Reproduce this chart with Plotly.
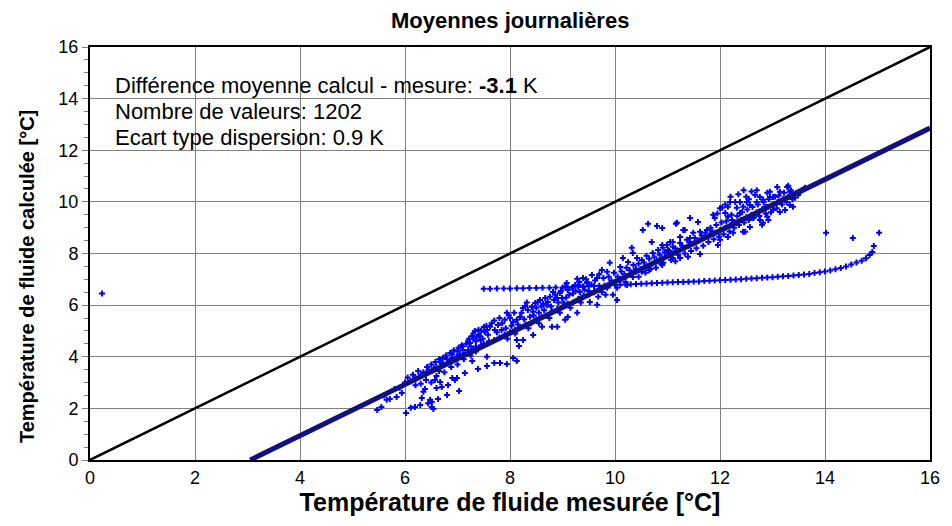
import plotly.graph_objects as go

cloud_x = [
    5.47, 5.55, 5.65, 5.71, 5.84, 5.94, 6.02, 6.11, 6.19, 6.29, 6.32, 6.35, 6.38, 6.44, 6.48, 6.51, 6.54, 6.51,
    6.57, 6.6, 6.67, 6.7, 6.63, 6.8, 6.82, 6.9, 6.95, 6.99, 7.03, 7.14, 7.28, 7.39, 7.56, 7.56,
    5.6, 5.8, 5.9, 6.0, 6.1, 6.2, 6.3, 6.4, 6.45, 6.55, 6.6, 6.7, 6.75, 6.85, 6.9, 7.0, 7.05, 7.15, 7.2, 7.3,
    7.35, 7.45, 7.5, 7.6,
    6.67, 6.99, 7.1, 7.24, 7.37, 7.52, 7.0, 7.1, 7.2, 7.3, 7.4, 7.45, 6.8, 6.9,
    7.7, 7.81, 7.94, 8.06, 8.13,
    7.56, 7.62, 7.71, 7.77, 7.84, 7.9, 7.94, 8.0, 8.06, 8.13, 8.19, 8.25, 8.29, 8.34, 8.42, 8.44, 8.48, 8.53,
    8.57, 8.63, 8.67, 8.72, 8.76, 8.82, 8.86, 8.9, 8.95, 8.99, 9.05, 9.08, 9.1, 9.18, 9.24, 9.28, 9.33, 9.39, 9.47,
    8.13, 8.17, 8.25, 8.44, 8.61, 8.8, 8.9, 9.05, 9.1, 9.28,
    7.7, 7.8, 7.9, 8.0, 8.1, 8.2, 8.3, 8.4, 8.5, 8.6, 8.7, 8.8, 8.9, 9.0, 9.1, 9.2, 9.3, 9.4, 9.5,
    7.3, 7.35, 7.42, 7.48, 7.25,
    10.63, 10.8, 11.16, 10.53, 11.33, 10.32, 10.34, 10.7, 10.9, 11.05, 9.9, 9.75, 9.85, 10.1, 10.15, 10.25,
    10.42, 10.51, 10.6, 10.72, 10.82, 10.91, 11.01, 11.1, 11.24, 11.37, 9.39, 9.56, 9.66, 9.3, 9.47, 9.75,
    9.68, 9.52, 9.66, 9.85, 10.04, 10.23, 10.1, 10.34, 10.51, 9.96, 10.04,
    9.6, 9.7, 9.8, 9.9, 10.0, 10.1, 10.2, 10.3, 10.4, 10.5, 10.6, 10.7, 10.8, 10.9, 11.0, 11.1, 11.2, 11.3, 11.4,
    13.09, 12.9, 12.76, 12.67, 12.51, 12.38, 12.29, 12.19, 12.15, 12.32, 12.44, 12.57, 12.7, 12.82, 12.95,
    12.04, 12.1, 11.87, 11.9, 12.15, 12.23, 12.38, 12.63, 12.76, 12.9, 13.01, 11.58, 11.43, 11.18, 11.3,
    11.49, 11.62, 11.75, 11.85, 11.1, 10.99, 11.24, 11.43, 12.0, 12.25, 12.48, 12.57, 12.8, 10.9, 11.1,
    11.24, 11.39, 11.62, 10.92, 12.15, 11.96,
    13.28, 13.33, 12.95, 13.14, 13.01, 13.43, 13.49, 12.86, 13.33, 13.39, 12.82, 12.92, 13.14, 13.24, 12.44,
    13.3, 12.6, 12.5, 12.7,
    11.5, 11.6, 11.7, 11.8, 11.9, 12.0, 12.1, 12.2, 12.3, 12.4, 12.5, 12.6, 12.7, 12.8, 12.9, 13.0, 13.1,
    13.2, 13.3, 13.4, 13.5, 13.6,
    0.23, 14.02, 14.53, 15.03,
]
cloud_y = [
    1.94, 2.05, 2.33, 2.36, 2.44, 2.6, 1.82, 2.02, 2.05, 2.13, 2.4, 2.64, 2.75, 2.2, 2.33, 2.05, 1.98, 2.25,
    3.1, 2.79, 3.02, 2.83, 2.36, 2.52, 2.91, 3.18, 3.1, 3.18, 2.67, 3.37, 3.84, 3.53, 3.64, 4.0,
    2.5, 2.75, 2.8, 3.0, 3.05, 3.2, 3.3, 3.35, 3.5, 3.55, 3.6, 3.75, 3.7, 3.85, 3.95, 4.0, 4.1, 4.15, 4.25, 4.3,
    4.4, 4.45, 4.5, 4.6,
    3.8, 4.0, 4.26, 4.53, 4.77, 4.96, 4.2, 4.4, 4.6, 4.7, 4.85, 5.0, 3.9, 4.1,
    3.76, 3.76, 3.72, 3.95, 3.84,
    5.04, 5.16, 5.04, 5.23, 5.04, 5.43, 5.7, 5.5, 5.35, 5.43, 5.54, 5.89, 5.97, 5.81, 5.93, 5.74, 6.08, 6.12,
    6.2, 6.05, 6.28, 6.12, 6.32, 6.51, 6.4, 6.28, 6.47, 6.28, 6.71, 6.86, 6.59, 6.67, 6.78, 7.02, 6.51, 6.71, 6.86,
    4.65, 4.42, 4.65, 4.84, 5.16, 5.16, 5.16, 5.43, 5.54, 5.7,
    4.65, 4.75, 4.85, 4.95, 5.05, 5.15, 5.25, 5.3, 5.45, 5.55, 5.6, 5.75, 5.85, 5.95, 6.05, 6.1, 6.25, 6.35, 6.4,
    4.9, 4.6, 4.8, 4.7, 4.4,
    9.15, 9.07, 9.15, 8.91, 8.91, 8.22, 8.02, 8.45, 8.33, 8.45, 7.64, 7.36, 7.29, 7.48, 7.83, 7.67,
    7.83, 7.75, 7.91, 8.02, 8.14, 8.22, 8.14, 8.26, 8.41, 8.53, 7.05, 7.17, 7.05, 6.78, 6.9, 6.51,
    6.32, 6.12, 6.01, 6.67, 6.67, 6.78, 6.98, 7.09, 7.29, 6.4, 6.2,
    6.5, 6.6, 6.7, 6.85, 6.9, 7.0, 7.1, 7.2, 7.3, 7.4, 7.5, 7.6, 7.7, 7.8, 7.9, 8.0, 8.1, 8.2, 8.3,
    10.58, 10.35, 10.19, 10.27, 10.0, 10.0, 10.0, 10.0, 9.81, 9.77, 9.81, 9.88, 10.0, 10.08, 10.19,
    9.77, 9.57, 9.5, 9.38, 9.42, 9.3, 9.57, 9.38, 9.3, 9.42, 9.69, 9.22, 9.38, 9.19, 8.91,
    8.8, 8.84, 8.91, 8.84, 8.45, 8.33, 8.64, 8.6, 8.53, 8.8, 8.84, 9.03, 9.11, 8.99, 7.83,
    7.83, 7.87, 7.98, 7.64, 8.64, 8.33,
    10.58, 10.39, 10.39, 10.39, 10.19, 10.16, 10.27, 9.81, 9.88, 9.81, 9.19, 9.3, 9.61, 9.69, 8.84,
    10.62, 10.4, 10.2, 10.45,
    8.4, 8.5, 8.6, 8.7, 8.8, 8.9, 9.0, 9.1, 9.2, 9.3, 9.4, 9.5, 9.6, 9.7, 9.8, 9.9, 10.0,
    10.1, 10.2, 10.3, 10.4, 10.5,
    6.45, 8.8, 8.6, 8.8,
]

# denser part of the band around the fit line, as (measured, calculated)
band_points = [
    (6.05, 3.2), (6.15, 3.3), (6.25, 3.45), (6.35, 3.4), (6.42, 3.6), (6.5, 3.7), (6.58, 3.8), (6.65, 3.9),
    (6.72, 3.95), (6.78, 4.05), (6.86, 4.15), (6.93, 4.25), (7.02, 4.35), (7.08, 4.45), (7.17, 4.5), (7.22, 4.7),
    (7.28, 4.8), (7.33, 5.0), (7.4, 5.05), (7.44, 4.65), (7.5, 5.15), (7.55, 5.2), (7.58, 4.85), (6.2, 2.9),
    (6.3, 2.95), (6.5, 3.0), (6.6, 3.25), (6.75, 3.4), (6.88, 3.6), (7.0, 3.7), (7.12, 3.9), (7.25, 4.05),
    (7.35, 4.2), (6.4, 3.1), (6.65, 3.45),
    (7.65, 5.3), (7.7, 5.4), (7.75, 4.95), (7.85, 5.3), (7.92, 5.1), (7.98, 5.6), (8.03, 5.2), (8.08, 5.7),
    (8.15, 5.25), (8.22, 5.7), (8.27, 5.45), (8.32, 6.1), (8.38, 5.55), (8.45, 5.6), (8.5, 5.9), (8.55, 5.7),
    (8.6, 5.95), (8.65, 5.8), (8.7, 6.0), (8.78, 5.95), (8.84, 6.2), (8.92, 6.1), (8.97, 6.55), (9.02, 6.1),
    (9.07, 6.3), (9.13, 6.4), (9.2, 6.45), (9.25, 6.55), (9.32, 6.9), (9.36, 6.3), (9.42, 6.6), (9.45, 7.0),
    (9.5, 6.55), (7.8, 5.5), (7.95, 4.7), (8.1, 4.9), (8.35, 5.1), (8.55, 5.3), (8.75, 5.5), (8.95, 5.7),
    (9.15, 5.9), (9.35, 6.1),
    (9.55, 6.8), (9.62, 6.95), (9.7, 7.2), (9.78, 7.05), (9.82, 6.4), (9.88, 7.1), (9.93, 6.95), (9.98, 7.25),
    (10.05, 7.1), (10.12, 7.3), (10.18, 7.2), (10.22, 7.45), (10.28, 7.35), (10.35, 7.55), (10.4, 7.4),
    (10.45, 7.6), (10.55, 7.65), (10.58, 7.25), (10.65, 7.8), (10.68, 7.4), (10.75, 7.85), (10.78, 7.45),
    (10.85, 7.95), (10.88, 7.6), (10.95, 8.05), (11.03, 8.1), (11.07, 7.75), (11.15, 8.2), (11.2, 7.95),
    (11.28, 8.3), (11.33, 8.0), (11.42, 8.45), (11.45, 8.1), (10.2, 6.9), (10.45, 7.1), (10.65, 7.35),
    (10.9, 7.55), (11.15, 7.7),
    (11.52, 8.6), (11.55, 8.2), (11.65, 8.7), (11.68, 8.3), (11.72, 8.8), (11.78, 8.45), (11.82, 9.0),
    (11.88, 8.55), (11.93, 9.1), (11.98, 8.65), (12.03, 9.2), (12.07, 8.75), (12.12, 9.25), (12.18, 8.85),
    (12.22, 9.5), (12.27, 9.0), (12.33, 9.45), (12.36, 9.1), (12.42, 9.6), (12.46, 9.2), (12.52, 9.7),
    (12.55, 9.3), (12.62, 9.8), (12.65, 9.4), (12.72, 9.9), (12.75, 9.45), (12.83, 10.0), (12.87, 9.55),
    (12.93, 10.1), (12.97, 9.6), (13.05, 10.2), (13.08, 9.75), (13.12, 10.25), (13.18, 9.9), (13.22, 10.35),
    (13.27, 10.0), (13.35, 10.45), (13.38, 10.1), (13.45, 10.35), (13.55, 10.45), (13.62, 10.55),
    (12.2, 10.2), (12.35, 10.3), (12.45, 10.45), (12.55, 10.1), (12.1, 9.9), (12.0, 9.75), (11.95, 9.55),
]

# the slowly rising branch of points to the right
branch_x = [
    7.5, 7.62, 7.75, 7.88, 8.0, 8.13, 8.25, 8.37, 8.5, 8.62, 8.75, 8.87, 9.0, 9.1, 9.2, 9.3, 9.4, 9.5, 9.6, 9.7,
    9.8, 9.9, 10.0, 10.1, 10.2, 10.3, 10.4, 10.5, 10.6, 10.7, 10.8, 10.9, 11.0, 11.1, 11.2, 11.3, 11.4, 11.5,
    11.6, 11.7, 11.8, 11.9, 12.0, 12.1, 12.2, 12.3, 12.4, 12.5, 12.6, 12.7, 12.8, 12.9, 13.0, 13.1, 13.2, 13.3,
    13.4, 13.5, 13.6, 13.7, 13.8, 13.9, 14.0, 14.1, 14.2, 14.3, 14.4, 14.5, 14.6, 14.7, 14.78, 14.85, 14.9, 14.93,
]
branch_y = [
    6.63, 6.63, 6.64, 6.64, 6.64, 6.65, 6.65, 6.66, 6.66, 6.67, 6.67, 6.68, 6.68, 6.69, 6.7, 6.71, 6.72, 6.73,
    6.74, 6.75, 6.76, 6.77, 6.78, 6.79, 6.8, 6.81, 6.82, 6.83, 6.84, 6.85, 6.86, 6.87, 6.88, 6.89, 6.9, 6.9,
    6.91, 6.92, 6.92, 6.93, 6.94, 6.95, 6.96, 6.97, 6.98, 6.99, 7.0, 7.02, 7.03, 7.04, 7.06, 7.07, 7.08, 7.1,
    7.12, 7.13, 7.15, 7.17, 7.19, 7.21, 7.24, 7.27, 7.3, 7.34, 7.39, 7.44, 7.5, 7.57, 7.65, 7.72, 7.82, 7.94,
    8.06, 8.29,
]

fit_slope = 0.993
fit_intercept = -3.03
axis_max = 16

stats_lines = [
    "Différence moyenne calcul - mesure: <b>-3.1</b> K",
    "Nombre de valeurs: 1202",
    "Ecart type dispersion: 0.9 K",
]

FONT = "Arial, Liberation Sans, sans-serif"

all_x = cloud_x + [p[0] for p in band_points] + branch_x
all_y = cloud_y + [p[1] for p in band_points] + branch_y

fig = go.Figure()
fig.add_trace(go.Scatter(x=all_x, y=all_y, mode="markers",
                         marker=dict(color="#0000ff", size=5, symbol="cross", line=dict(width=0)),
                         showlegend=False))
fig.add_trace(go.Scatter(x=[0, axis_max], y=[0, axis_max], mode="lines",
                         line=dict(color="black", width=2.5), showlegend=False))
x0 = -fit_intercept / fit_slope
fig.add_trace(go.Scatter(x=[x0, axis_max], y=[0, fit_slope * axis_max + fit_intercept], mode="lines",
                         line=dict(color="#101080", width=5), showlegend=False))

for i, txt in enumerate(stats_lines):
    fig.add_annotation(text=txt, xref="paper", yref="paper", x=0.027, y=0.906 - i * 0.0625,
                       xanchor="left", yanchor="middle", showarrow=False,
                       font=dict(family=FONT, size=22, color="black"))

# y-axis title, placed as in the original (slightly below the plot centre)
fig.add_annotation(text="<b>Température de fluide calculée [°C]</b>", textangle=-90,
                   xref="paper", yref="paper", x=-0.075, y=0.443, xanchor="center", yanchor="middle",
                   showarrow=False, font=dict(family=FONT, size=20, color="black"))

fig.update_layout(
    width=944, height=518,
    margin=dict(l=82, r=22, t=39, b=66),
    paper_bgcolor="white", plot_bgcolor="white",
    font=dict(family=FONT, color="black"),
    title=dict(text="<b>Moyennes journalières</b>", x=0.532, xanchor="center",
               y=0.977, yanchor="middle", font=dict(family=FONT, size=22, color="black")),
)
fig.update_xaxes(
    range=[0, axis_max], dtick=2, tick0=0,
    showgrid=True, gridcolor="#808080", gridwidth=1,
    showline=True, linecolor="black", linewidth=2, mirror=True,
    ticks="", tickfont=dict(family=FONT, size=18, color="black"),
    zeroline=False,
    title=dict(text="<b>Température de fluide mesurée [°C]</b>", standoff=1,
               font=dict(family=FONT, size=25, color="black")),
)
fig.update_yaxes(
    range=[0, axis_max], dtick=2, tick0=0,
    showgrid=True, gridcolor="#808080", gridwidth=1,
    showline=True, linecolor="black", linewidth=2, mirror=True,
    ticks="outside", ticklen=6, tickcolor="#808080",
    minor=dict(dtick=0.5, ticks="outside", ticklen=4, tickcolor="#808080", showgrid=False),
    tickfont=dict(family=FONT, size=18, color="black"),
    zeroline=False,
)

fig.write_html("out.html")
